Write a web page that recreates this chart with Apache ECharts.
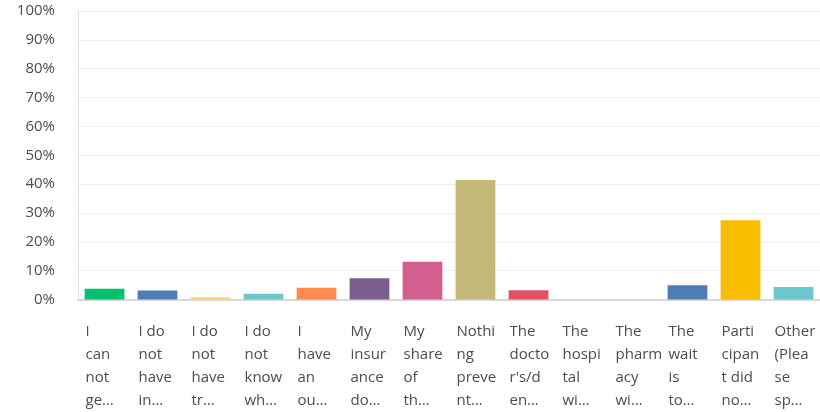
<!DOCTYPE html>
<html>
<head>
<meta charset="utf-8">
<script src="https://cdn.jsdelivr.net/npm/echarts@6/dist/echarts.min.js"></script>
<style>
html,body{margin:0;padding:0;background:#fff;}
#c{width:820px;height:412px;}
</style>
</head>
<body>
<div id="c"></div>
<script>
const categories = [
  'I\ncan\nnot\nge…',
  'I do\nnot\nhave\nin…',
  'I do\nnot\nhave\ntr…',
  'I do\nnot\nknow\nwh…',
  'I\nhave\nan\nou…',
  'My\ninsur\nance\ndo…',
  'My\nshare\nof\nth…',
  'Nothi\nng\npreve\nnt…',
  'The\ndocto\nr\'s/d\nen…',
  'The\nhospi\ntal\nwi…',
  'The\npharm\nacy\nwi…',
  'The\nwait\nis\nto…',
  'Parti\ncipan\nt did\nno…',
  'Other\n(Plea\nse\nsp…'
];
const values = [3.7, 3.1, 0.8, 2.0, 4.1, 7.4, 13.1, 41.4, 3.2, 0, 0, 4.9, 27.5, 4.3];
const colors = ['#00bf6f','#507cb6','#f7d67c','#6bc8cd','#ff8b4f','#7d5e90','#d25f90','#c4b77a','#e05263','#507cb6','#507cb6','#507cb6','#f9be00','#6bc8cd'];
const yTicks = [0,10,20,30,40,50,60,70,80,90,100];

const chart = echarts.init(document.getElementById('c'));
chart.setOption({
  animation: false,
  grid: {left: 78, right: 0, top: 11, bottom: 112.5},
  xAxis: {
    type: 'category',
    data: categories,
    axisLine: {lineStyle: {color: '#d9d9d9', width: 2}},
    axisTick: {show: false},
    axisLabel: {
      interval: 0,
      margin: 21,
      align: 'center',
      formatter: v => '{a|' + v.split('\n').join('}\n{a|') + '}',
      rich: {a: {width: 38, align: 'left', fontSize: 15, lineHeight: 23, color: '#4d4d4d', fontFamily: 'Open Sans'}}
    }
  },
  yAxis: {
    type: 'value',
    min: 0, max: 100, interval: 10,
    axisLine: {show: true, lineStyle: {color: '#e0e0e0', width: 1}},
    axisTick: {show: false},
    splitLine: {lineStyle: {color: '#eeeeee', width: 1}},
    axisLabel: {
      margin: 23,
      formatter: v => yTicks.includes(v) ? v + '%' : '',
      fontSize: 15, color: '#4d4d4d', fontFamily: 'Open Sans'
    }
  },
  series: [{
    type: 'bar',
    data: values.map((v, i) => ({value: v, itemStyle: {color: colors[i]}})),
    barCategoryGap: '25%'
  }]
});
</script>
</body>
</html>
